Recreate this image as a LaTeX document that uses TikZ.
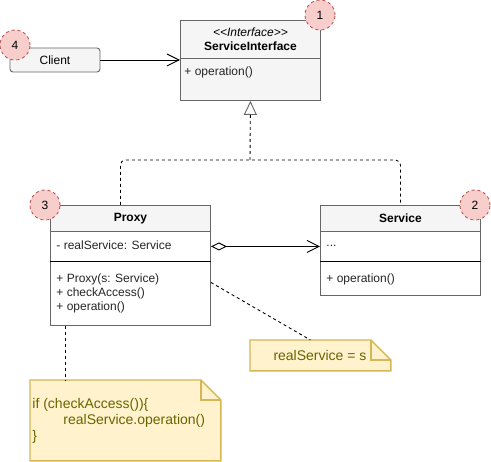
\documentclass[tikz,border=0pt]{standalone}
\usepackage{fontspec}
\setmainfont{Liberation Sans}
\usetikzlibrary{arrows.meta}
\definecolor{boxline}{HTML}{666666}
\definecolor{headfill}{HTML}{F5F5F5}
\definecolor{badgefill}{HTML}{F8CECC}
\definecolor{badgeline}{HTML}{B85450}
\definecolor{notefill}{HTML}{FFF2CC}
\definecolor{noteline}{HTML}{D6B656}
\definecolor{notetext}{HTML}{666600}
\begin{document}
\begin{tikzpicture}[x=1pt, y=-1pt, line width=0.9pt, font=\fontsize{12}{14}\selectfont,
        part/.style={draw=boxline, anchor=north west, inner sep=0pt, minimum width=#1},
        member/.style={anchor=west, inner sep=0pt, text=black!85},
        notetxt/.style={anchor=west, inner sep=0pt, text=notetext, font=\fontsize{14}{16}\selectfont},
        badge/.style={circle, draw=badgeline, fill=badgefill, dash pattern=on 3pt off 3pt, minimum size=30pt, inner sep=0pt},
        notebox/.style={draw=noteline, fill=notefill, line width=1.4pt},
        dashline/.style={dash pattern=on 3pt off 3pt},
        realize/.style={dash pattern=on 3pt off 3pt, -{Triangle[open, length=14pt, width=13pt, color=boxline]}},
        assoc/.style={-{Straight Barb[length=12pt, width=12pt]}},
        aggr/.style={{Diamond[open, length=16pt, width=8pt]}-{Straight Barb[length=12pt, width=12pt]}}]

        \useasboundingbox (0, 0) rectangle (491, 462);

        % ServiceInterface
        \node (si-head) at (180, 20) [part=140pt, fill=headfill, minimum height=38pt, align=center] {\textit{<\kern0pt<Interface>\kern0pt>}\\\textbf{ServiceInterface}};
        \node (si-body) at (180, 58) [part=140pt, fill=headfill, minimum height=42pt] {};
        \node (si-op) at (184, 72) [member] {+ operation()};

        % Client
        \node (client) at (55, 60) [draw=boxline, fill=headfill, rounded corners=3pt, minimum width=90pt, minimum height=24pt] {Client};

        % Proxy
        \node (pr-head) at (50, 205) [part=160pt, fill=headfill, minimum height=26pt] {\textbf{Proxy}};
        \node (pr-attr) at (50, 231) [part=160pt, fill=white, minimum height=30pt] {};
        \node (pr-ops) at (50, 261) [part=160pt, fill=white, minimum height=64pt] {};
        \draw (pr-attr.south west) -- (pr-attr.south east);
        \node (pr-a1) at (56, 245) [member] {- realService: Service};
        \node (pr-o1) at (56, 279) [member] {+ Proxy(s: Service)};
        \node (pr-o2) at (56, 293) [member] {+ checkAccess()};
        \node (pr-o3) at (56, 307) [member] {+ operation()};

        % Service
        \node (sv-head) at (320, 205) [part=160pt, fill=headfill, minimum height=26pt] {\textbf{Service}};
        \node (sv-attr) at (320, 231) [part=160pt, fill=white, minimum height=30pt] {};
        \node (sv-ops) at (320, 261) [part=160pt, fill=white, minimum height=34pt] {};
        \draw (sv-attr.south west) -- (sv-attr.south east);
        \node (sv-a1) at (326, 246) [member] {...};
        \node (sv-o1) at (326, 279) [member] {+ operation()};

        % notes
        \node (note-s) at (250, 340) [part=140pt, draw=none, minimum height=30pt] {};
        \draw[notebox] (note-s.north west) -- ([xshift=-20pt]note-s.north east) -- ([yshift=-20pt]note-s.north east) -- (note-s.south east) -- (note-s.south west) -- cycle;
        \draw[notebox, fill=none] ([xshift=-20pt]note-s.north east) |- ([yshift=-20pt]note-s.north east);
        \node (note-s-txt) at (320, 355) [notetxt, anchor=center] {realService = s};

        \node (note-op) at (30, 380) [part=190pt, draw=none, minimum height=80pt] {};
        \draw[notebox] (note-op.north west) -- ([xshift=-20pt]note-op.north east) -- ([yshift=-20pt]note-op.north east) -- (note-op.south east) -- (note-op.south west) -- cycle;
        \draw[notebox, fill=none] ([xshift=-20pt]note-op.north east) |- ([yshift=-20pt]note-op.north east);
        \node (note-op-1) at (32, 405) [notetxt] {if (checkAccess())\{};
        \node (note-op-2) at (63, 421) [notetxt] {realService.operation()};
        \node (note-op-3) at (32, 437) [notetxt] {\}};

        % badges
        \node (b1) at (320, 15) [badge] {1};
        \node (b2) at (475, 205) [badge] {2};
        \node (b3) at (45, 205) [badge] {3};
        \node (b4) at (15, 45) [badge] {4};

        % connectors
        \coordinate (join) at (250, 160);
        \draw[realize] (join) -- (si-body.south);
        \draw[dashline, rounded corners=5pt] ([xshift=-10pt]pr-head.north) |- (join) -| (sv-head.north);

        \draw[assoc] (client.east) -- (client.east -| si-head.west);
        \draw[aggr] (pr-attr.east) -- (sv-attr.west);

        \draw[dashline] ([yshift=11pt]pr-ops.east) -- ([xshift=-10pt]note-s.north);
        \draw[dashline] ([xshift=15pt]pr-ops.south west) -- ([xshift=35pt]note-op.north west);

    \end{tikzpicture}
\end{document}
